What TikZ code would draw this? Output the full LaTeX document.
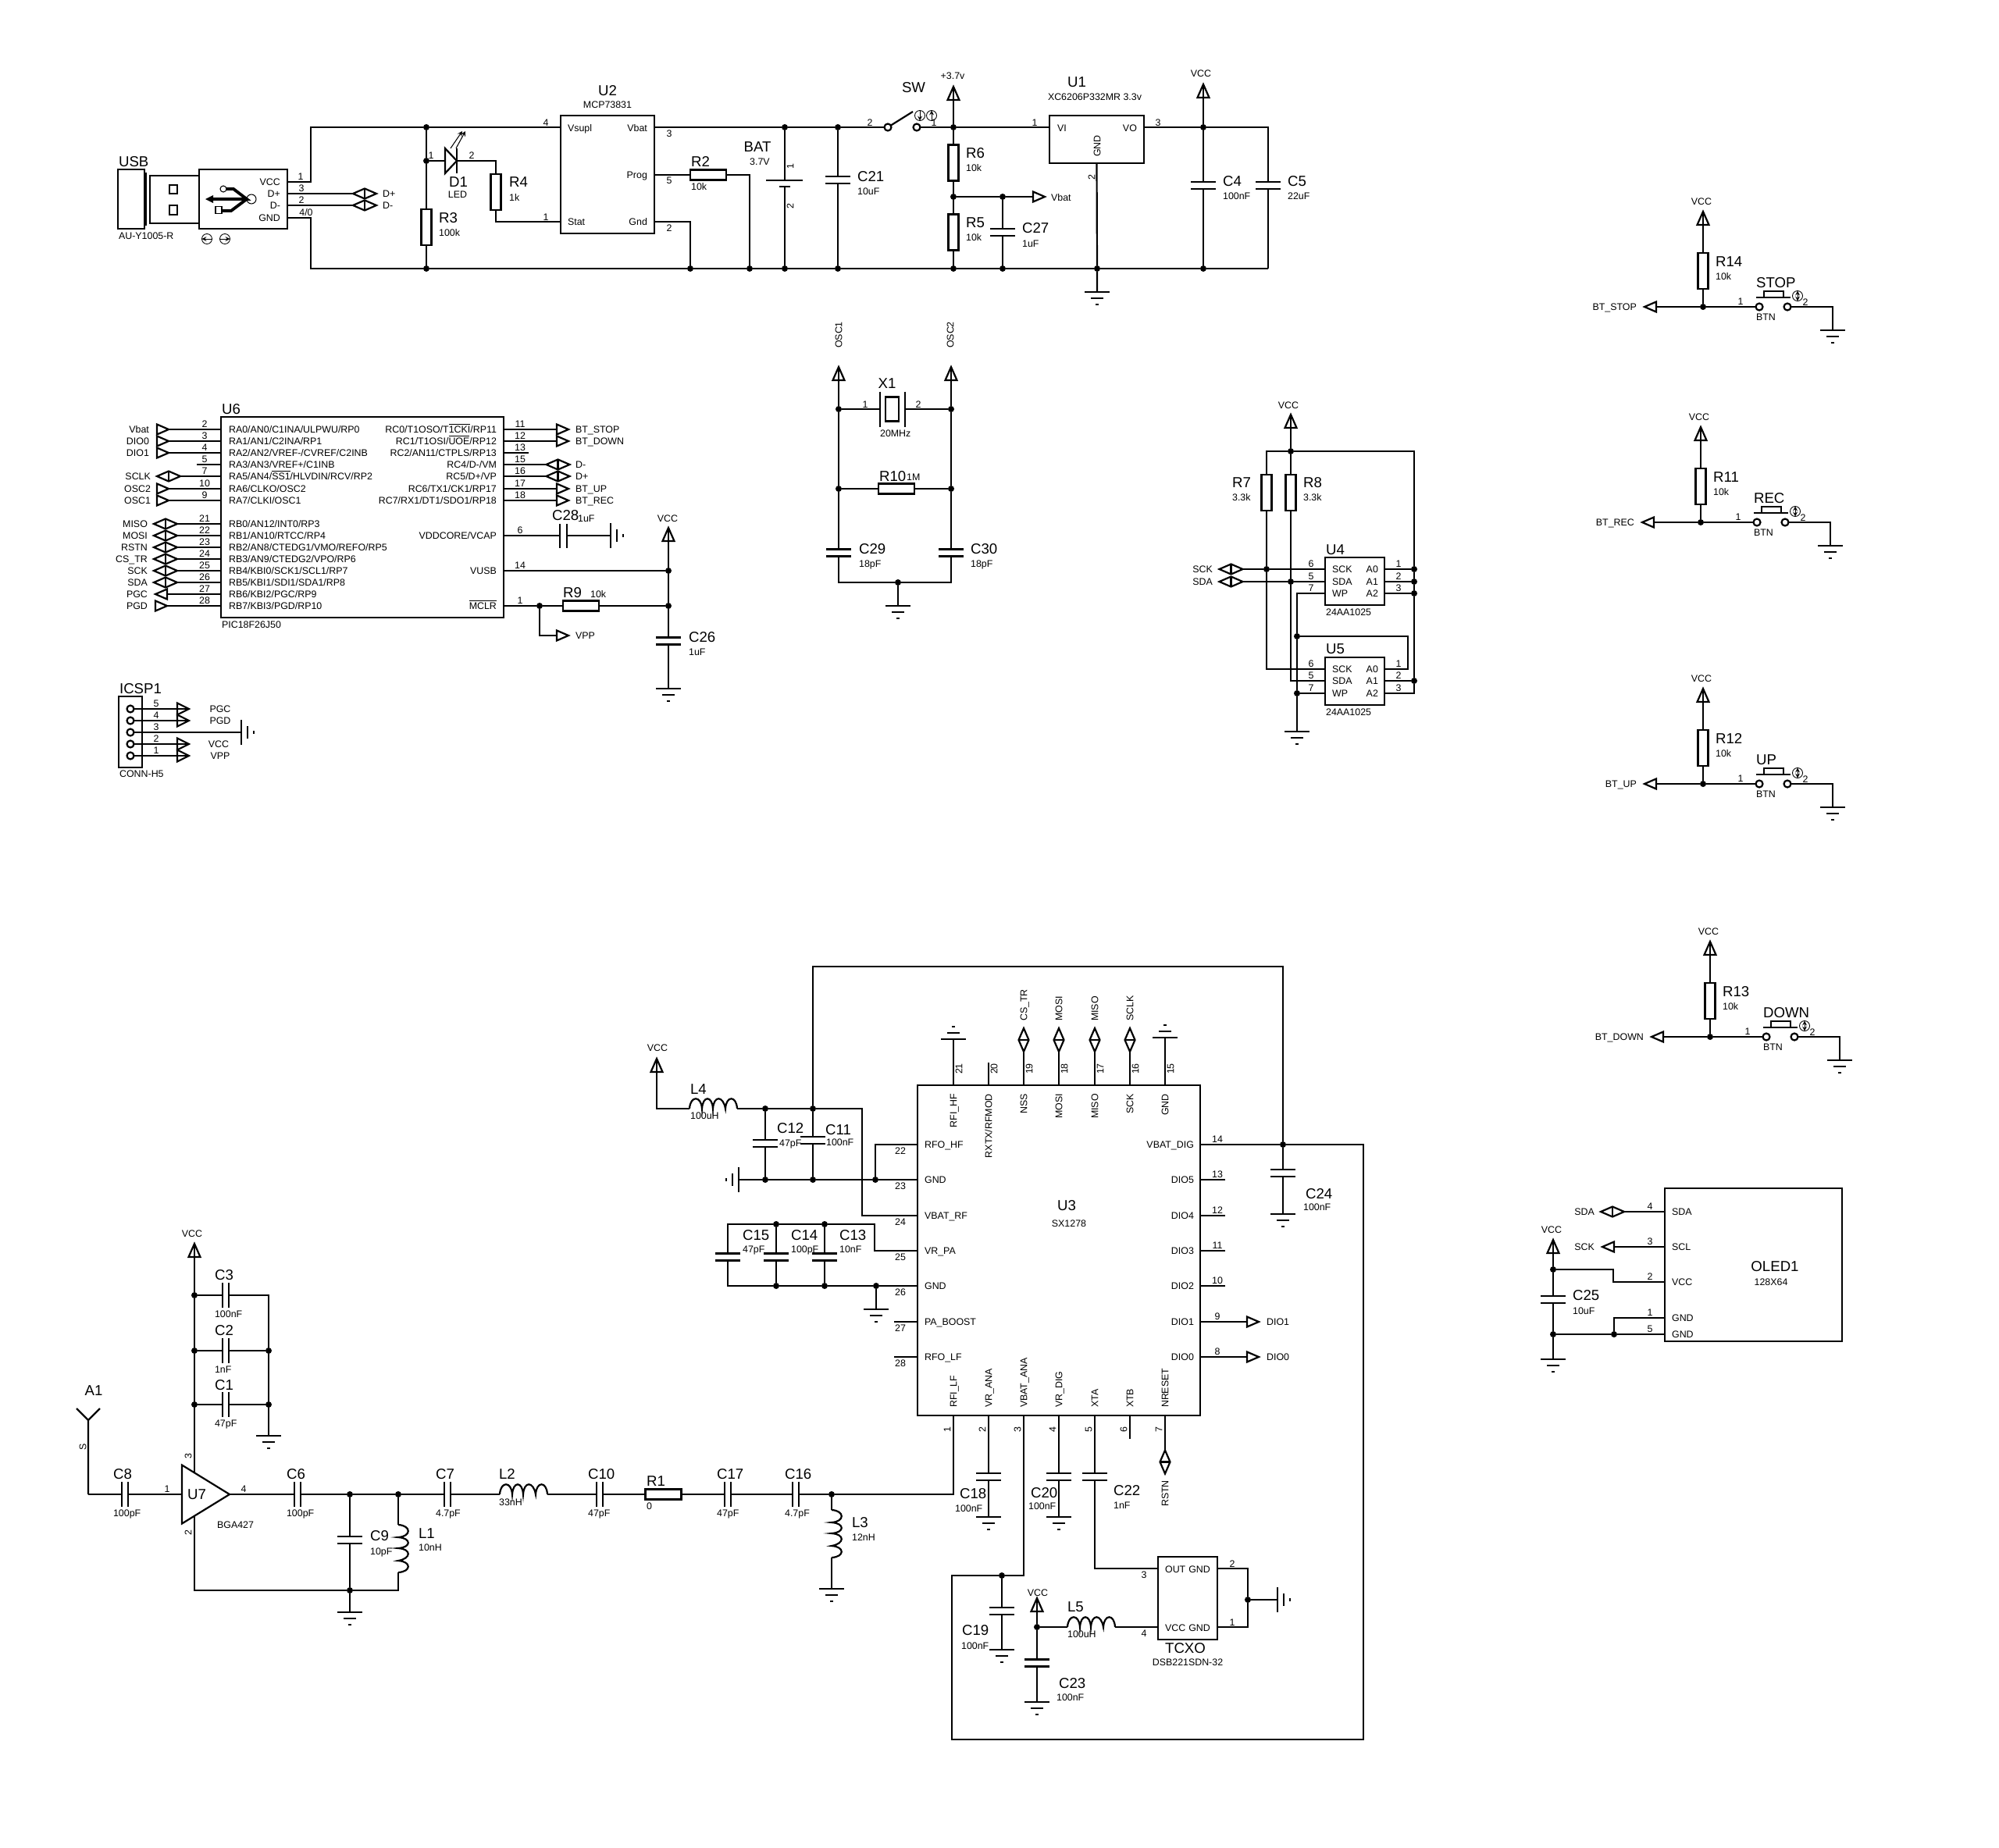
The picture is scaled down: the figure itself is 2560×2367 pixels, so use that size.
\documentclass[tikz,border=0pt]{standalone}
\usepackage{fontspec}
\setmainfont{Liberation Sans}
\usetikzlibrary{shapes.geometric}
\newcommand{\pxu}{0.2mm}
\newcommand{\smfont}{\fontsize{7.06pt}{8.5pt}\selectfont}
\newcommand{\bgfont}{\fontsize{10.6pt}{12pt}\selectfont}
\newcommand{\ol}[1]{$\overline{\mbox{#1}}$}
\newcounter{pinctr}
\newcommand{\pinno}[2]{\stepcounter{pinctr}\node[sm] (pin\arabic{pinctr}) at (#1) {#2};}
\newcommand{\pinnor}[2]{\stepcounter{pinctr}\node[sm,rotate=90] (pin\arabic{pinctr}) at (#1) {#2};}
\newcommand{\refval}[4]{\node[bg,anchor=west] (#1-ref) at (#2) {#1}; \node[sm,anchor=west] (#1-val) at (#4) {#3};}
\tikzset{
  sm/.style={font=\smfont,inner sep=0pt,text height=5.1pt,text depth=0pt},
  bg/.style={font=\bgfont,inner sep=0pt,text height=7.6pt,text depth=0pt},
  dot/.style={circle,fill,inner sep=0pt,outer sep=0pt,minimum size=8*\pxu},
  chip/.style 2 args={draw,inner sep=0pt,outer sep=0pt,minimum width=#1*\pxu,minimum height=#2*\pxu},
  resv/.style={chip={13}{46},fill=white},
  resh/.style={chip={46}{13},fill=white},
  capv/.style={inner sep=0pt,outer sep=0pt,minimum width=32*\pxu,minimum height=9*\pxu,
    append after command={(\tikzlastnode.north west) edge (\tikzlastnode.north east)
      (\tikzlastnode.south west) edge (\tikzlastnode.south east)}},
  caph/.style={inner sep=0pt,outer sep=0pt,minimum width=8*\pxu,minimum height=32*\pxu,
    append after command={(\tikzlastnode.north west) edge (\tikzlastnode.south west)
      (\tikzlastnode.north east) edge (\tikzlastnode.south east)}},
  tri/.style={isosceles triangle,isosceles triangle stretches,draw,fill=white,inner sep=0pt,outer sep=0pt,
    anchor=lower side,minimum width=13*\pxu,minimum height=15*\pxu},
  portr/.style={tri,shape border rotate=0},
  portl/.style={tri,shape border rotate=180},
  portu/.style={tri,shape border rotate=90,minimum width=15*\pxu,minimum height=17*\pxu},
  bidir/.style={diamond,draw,fill=white,inner sep=0pt,outer sep=0pt,aspect=2.4,minimum width=30*\pxu,minimum height=13*\pxu,
    append after command={(\tikzlastnode.north) edge (\tikzlastnode.south)}},
  bidirv/.style={diamond,draw,fill=white,inner sep=0pt,outer sep=0pt,aspect=.42,minimum width=13*\pxu,minimum height=30*\pxu,
    append after command={(\tikzlastnode.west) edge (\tikzlastnode.east)}},
  ctc/.style={circle,draw,fill=white,inner sep=0pt,outer sep=0pt,minimum size=9*\pxu},
  ring/.style={circle,draw,line width=.5pt,inner sep=0pt,outer sep=0pt,minimum size=13*\pxu},
  gnd/.pic={\draw (-16,0) -- (16,0) (-8,8) -- (8,8) (-2,16) -- (2,16);},
  coil/.pic={\draw (0,0) .. controls (1,-17) and (15,-17) .. (16,0)
    .. controls (17,-17) and (29,-17) .. (30,0)
    .. controls (31,-17) and (43,-17) .. (46,0)
    .. controls (47,-17) and (60,-17) .. (61,0);}
}
\begin{document}
\begin{tikzpicture}[x=0.2mm,y=-0.2mm,line width=1.25pt]
\useasboundingbox (0,0) rectangle (2560,2367);

% USB connector
\node[chip={34}{76},line width=.6pt] (USBs) at (168,255) {};
\draw[line width=.6pt] (185,222) -- (187,222) -- (187,288) -- (185,288);
\node[chip={63}{61},line width=.7pt] (USBp) at (223.5,255.5) {};
\node[chip={10}{11},line width=.6pt] (USBh1) at (222,242.5) {};
\node[chip={10}{12},line width=.6pt] (USBh2) at (222,269) {};
\node[chip={113}{76}] (USBb) at (311.5,255) {};
\node[bg,anchor=west] (USBl) at (151,207) {USB};
\node[sm,anchor=west] (USBv) at (151,302) {AU-Y1005-R};
\node[sm,anchor=east] (uvcc) at (360,233) {VCC};
\node[sm,anchor=east] (udp) at (360,248) {D+};
\node[sm,anchor=east] (udm) at (360,263) {D-};
\node[sm,anchor=east] (ugnd) at (360,279) {GND};
\draw[line width=2.2pt] (272,255) -- (316,255) -- (299,242) -- (288,242) (316,255) -- (296,270) -- (284,270);
\fill (263,255) -- (273,250) -- (273,260) -- cycle;
\node[circle,draw,line width=.6pt,inner sep=0pt,minimum size=12*\pxu] (usbc) at (322,255) {};
\node[circle,draw,line width=.6pt,fill=white,inner sep=0pt,minimum size=8*\pxu] (usbc2) at (286,242) {};
\node[chip={8}{9},line width=.6pt,fill=white] (usbq) at (280,269) {};
\node[ring] (usbr1) at (265,306) {};
\node[ring] (usbr2) at (288,306) {};
\draw[line width=.5pt,->,>=stealth] (usbr1.east) -- (usbr1.west);
\draw[line width=.5pt,->,>=stealth] (usbr2.west) -- (usbr2.east);
\pinno{385,226}{1} \pinno{386,241}{3} \pinno{386,256}{2} \pinno{392,272}{4/0}
\coordinate (tl) at (398,163);
\coordinate (bl) at (398,344);
\coordinate (tr) at (1624,163);
\coordinate (br) at (1624,344);
\foreach \x in {546,884,960,1005,1073,1221,1284,1405,1541} {\node[dot] (bot\x) at (\x,344) {};}
\foreach \x in {546,1005,1073,1221,1541} {\node[dot] (top\x) at (\x,163) {};}
\node[bidir] (pdp) at (467,248) {};
\node[bidir] (pdm) at (467,263) {};
\node[sm,anchor=west] (tdp) at (489,248) {D+};
\node[sm,anchor=west] (tdm) at (489,263) {D-};
\draw (USBb.east |- udp) -- (pdp);
\draw (USBb.east |- udm) -- (pdm);

% charger
\node[chip={120}{151}] (U2) at (778,223.5) {};
\node[bg] (U2l) at (778,116) {U2};
\node[sm] (U2v) at (778,134) {MCP73831};
\node[sm,anchor=west] (u2a) at (726,164) {Vsupl};
\node[sm,anchor=east] (u2b) at (830,164) {Vbat};
\node[sm,anchor=east] (u2c) at (830,224) {Prog};
\node[sm,anchor=west] (u2d) at (726,284) {Stat};
\node[sm,anchor=east] (u2e) at (830,284) {Gnd};
\pinno{699,157}{4} \pinno{699,278}{1} \pinno{857,171}{3} \pinno{857,231}{5} \pinno{857,292}{2}
\node[resv] (R3) at (546,291) {};
\refval{R3}{561,279}{100k}{561,298}
\node[dot] (jd1) at (546,206) {};
\node[tri,minimum width=32*\pxu] (D1) at (570,206) {};
\node[bg] (D1-ref) at (587,233) {D1};
\node[sm] (D1-val) at (586,249) {LED};
\draw (585,190) -- (585,222);
\draw[line width=.6pt,->,>=stealth] (577,190) -- (592,168);
\draw[line width=.6pt,->,>=stealth] (584,190) -- (596,168);
\pinno{552,199}{1} \pinno{604,199}{2}
\coordinate (r4t) at (635,206);
\coordinate (r4b) at (635,284);
\node[resv] (R4) at (635,246) {};
\refval{R4}{651,233}{1k}{651,253}
\node[resh] (R2) at (907,224) {};
\refval{R2}{884,207}{10k}{884,239}
\coordinate (r2r) at (960,224);
\coordinate (u2g) at (884,284);
\draw (USBb.east |- uvcc) -| (tl) -- (top546) -- (U2.west |- top546);
\draw (USBb.east |- ugnd) -| (bl) -- (bot546) -- (bot884) -- (bot960) -- (bot1005) -- (bot1073) -- (bot1221) -- (bot1284) -- (bot1405) -- (bot1541) -- (br);
\draw (top546) -- (jd1) -- (R3) -- (bot546);
\draw (jd1) -- (D1.lower side);
\draw (D1.apex) -- (r4t) -- (R4) -- (r4b) -- (U2.west |- r4b);
\draw (U2.east |- u2c) -- (R2) -- (r2r) -- (bot960);
\draw (U2.east |- u2e) -- (u2g) -- (bot884);

% battery and switch
\coordinate (bat1) at (1005,231);
\coordinate (bat2) at (1005,239);
\draw (981,231) -- (1028,231);
\draw[line width=1.6pt] (998,239) -- (1012,239);
\node[bg] (BATl) at (970,188) {BAT};
\node[sm] (BATv) at (973,207) {3.7V};
\pinnor{1012,213}{1} \pinnor{1012,264}{2}
\node[capv] (C21) at (1073,230.5) {};
\refval{C21}{1097,226}{10uF}{1097,245}
\node[ctc] (swa) at (1137,163) {};
\node[ctc] (swb) at (1174,163) {};
\draw (swa) -- (1169,143);
\node[ring] (swr1) at (1178,148) {};
\node[ring] (swr2) at (1193,148) {};
\draw[line width=.5pt,->,>=stealth] (swr1.north) -- (swr1.south);
\draw[line width=.5pt,->,>=stealth] (swr2.south) -- (swr2.north);
\node[bg] (SWl) at (1170,112) {SW};
\pinno{1114,157}{2} \pinno{1196,157}{1}
\node[sm] (p37t) at (1220,97) {+3.7v};
\node[portu] (p37) at (1221,128) {};
\node[resv] (R6) at (1221,208.5) {};
\refval{R6}{1236,196}{10k}{1236,215}
\node[resv] (R5) at (1221,297.5) {};
\refval{R5}{1236,285}{10k}{1236,304}
\node[dot] (jvb) at (1221,252) {};
\node[dot] (jc27) at (1284,252) {};
\node[portr] (pvb) at (1323,252) {};
\node[sm,anchor=west] (tvb) at (1345,253) {Vbat};
\node[capv] (C27) at (1284,297.5) {};
\refval{C27}{1308,292}{1uF}{1308,312}
\draw (U2.east |- top546) -- (top1005) -- (top1073) -- (swa);
\draw (top1005) -- (bat1) (bat2) -- (bot1005);
\draw (top1073) -- (C21) -- (bot1073);
\draw (swb) -- (top1221);
\draw (p37.apex) -- (top1221) -- (R6) -- (jvb) -- (R5) -- (bot1221);
\draw (jvb) -- (jc27) -- (pvb.lower side);
\draw (jc27) -- (C27) -- (bot1284);

% regulator
\node[chip={121}{61}] (U1) at (1404.5,178.5) {};
\node[bg] (U1l) at (1379,105) {U1};
\node[sm] (U1v) at (1402,124) {XC6206P332MR 3.3v};
\node[sm,anchor=west] (u1a) at (1353,164) {VI};
\node[sm,anchor=east] (u1b) at (1457,164) {VO};
\node[sm,rotate=90] (u1c) at (1405,187) {GND};
\pinno{1325,157}{1} \pinno{1483,157}{3} \pinnor{1398,227}{2}
\node[sm] (vcc1t) at (1538,94) {VCC};
\node[portu] (vcc1) at (1541,125) {};
\node[capv] (C4) at (1541,237.5) {};
\refval{C4}{1565,232}{100nF}{1565,251}
\node[capv] (C5) at (1624,237.5) {};
\refval{C5}{1648,232}{22uF}{1648,251}
\coordinate (g1) at (1405,374);
\pic at (g1) {gnd};
\draw (top1221) -- (U1.west |- top1221);
\draw (U1.east |- top1541) -- (top1541) -- (tr) -- (C5) -- (br);
\draw (vcc1.apex) -- (top1541) -- (C4) -- (bot1541);
\draw (U1.south) -- (bot1405) -- (g1);

% U6
\node[chip={362}{257}] (U6) at (464,662.5) {};
\node[bg,anchor=west] (U6l) at (283,524) {U6};
\node[sm,anchor=west] (U6v) at (283,800) {PIC18F26J50};
\foreach \y/\num/\txt in {550/2/{RA0/AN0/C1INA/ULPWU/RP0},565/3/{RA1/AN1/C2INA/RP1},580/4/{RA2/AN2/VREF-/CVREF/C2INB},595/5/{RA3/AN3/VREF+/C1INB},610/7/{RA5/AN4/\ol{SS1}/HLVDIN/RCV/RP2},626/10/{RA6/CLKO/OSC2},641/9/{RA7/CLKI/OSC1},671/21/{RB0/AN12/INT0/RP3},686/22/{RB1/AN10/RTCC/RP4},701/23/{RB2/AN8/CTEDG1/VMO/REFO/RP5},716/24/{RB3/AN9/CTEDG2/VPO/RP6},731/25/{RB4/KBI0/SCK1/SCL1/RP7},746/26/{RB5/KBI1/SDI1/SDA1/RP8},761/27/{RB6/KBI2/PGC/RP9},776/28/{RB7/KBI3/PGD/RP10}}
{
  \node[sm,anchor=west] (u6l\num) at (292,\y) {\txt};
  \pinno{262,\y-7}{\num}
}
\foreach \y/\num/\txt in {550/11/{RC0/T1OSO/T\ol{1CKI}/RP11},565/12/{RC1/T1OSI/\ol{UOE}/RP12},580/13/{RC2/AN11/CTPLS/RP13},595/15/{RC4/D-/VM},610/16/{RC5/D+/VP},626/17/{RC6/TX1/CK1/RP17},641/18/{RC7/RX1/DT1/SDO1/RP18},686/6/{VDDCORE/VCAP},731/14/{VUSB},776/1/{\ol{MCLR}}}
{
  \node[sm,anchor=east] (u6r\num) at (637,\y) {\txt};
  \pinno{666,\y-7}{\num}
}
% U6 ports
\foreach \y/\num/\n/\x/\w in {550/2/Vbat/201/192,565/3/DIO0/201/192,580/4/DIO1/201/192,626/10/OSC2/201/194,641/9/OSC1/201/194,776/28/PGD/199/190}
{
  \node[portr] (p\num) at (\x,\y) {};
  \node[sm,anchor=east] (t\num) at (\w,\y) {\n};
  \draw (p\num.apex) -- (U6.west |- p\num.apex);
}
\foreach \y/\num/\n/\x/\w in {610/7/SCLK/216/194,671/21/MISO/212/190,686/22/MOSI/212/190,701/23/RSTN/212/190,716/24/CS\_TR/212/190,731/25/SCK/212/190,746/26/SDA/212/190}
{
  \node[bidir] (p\num) at (\x,\y) {};
  \node[sm,anchor=east] (t\num) at (\w,\y) {\n};
  \draw (p\num) -- (U6.west |- p\num);
}
\node[portl] (p27) at (214,761) {};
\node[sm,anchor=east] (t27) at (190,761) {PGC};
\draw (p27.lower side) -- (U6.west |- p27.lower side);
\draw (U6.west |- u6l5) -- (252,595);
\foreach \y/\num/\n/\w in {550/11/BT\_STOP/736,565/12/BT\_DOWN/736,626/17/BT\_UP/736,641/18/BT\_REC/736}
{
  \node[portr] (p\num) at (713,\y) {};
  \node[sm,anchor=west] (t\num) at (\w,\y) {\n};
  \draw (U6.east |- p\num.lower side) -- (p\num.lower side);
}
\foreach \y/\num/\n in {595/15/D-,610/16/D+}
{
  \node[bidir] (p\num) at (714.5,\y) {};
  \node[sm,anchor=west] (t\num) at (736,\y) {\n};
  \draw (U6.east |- p\num) -- (p\num);
}
\draw (U6.east |- u6r13) -- (677,580);
\node[chip={9}{31},draw=none] (C28) at (721.5,686) {};
\draw (717,671) -- (717,702) (726,671) -- (726,702);
\node[bg,anchor=west] (C28-ref) at (706,660) {C28};
\node[sm,anchor=west] (C28-val) at (739,664) {1uF};
\coordinate (g28) at (782,686);
\pic[rotate=90] at (g28) {gnd};
\draw (U6.east |- u6r6) -- (C28) -- (g28);
\node[sm] (vcc6t) at (855,664) {VCC};
\node[portu] (vcc6) at (856,693) {};
\node[dot] (j14) at (856,731) {};
\node[dot] (j1) at (856,776) {};
\node[dot] (jm) at (691,776) {};
\node[resh] (R9) at (744,776) {};
\node[bg,anchor=west] (R9-ref) at (720,759) {R9};
\node[sm,anchor=west] (R9-val) at (755,761) {10k};
\coordinate (vppc) at (691,814);
\node[portr] (pvpp) at (713,814) {};
\node[sm,anchor=west] (tvpp) at (736,814) {VPP};
\node[capv] (C26) at (856,821) {};
\refval{C26}{881,816}{1uF}{881,835}
\coordinate (g26) at (856,882);
\pic at (g26) {gnd};
\draw (vcc6.apex) -- (j14) -- (j1) -- (C26) -- (g26);
\draw (U6.east |- u6r14) -- (j14);
\draw (U6.east |- u6r1) -- (jm) -- (R9) -- (j1);
\draw (jm) -- (vppc) -- (pvpp.lower side);

% ICSP
\node[chip={30}{91}] (ICSP) at (167,937.5) {};
\node[bg,anchor=west] (ICSPl) at (152,882) {ICSP1};
\node[sm,anchor=west] (ICSPv) at (152,991) {CONN-H5};
\foreach \y/\num/\n/\w in {908/5/PGC/282,923/4/PGD/282,953/2/VCC/280,968/1/VPP/282}
{
  \node[ctc] (h\num) at (167,\y) {};
  \node[tri,minimum width=15*\pxu] (hp\num) at (227,\y) {};
  \node[sm] (ht\num) at (\w,\y) {\n};
  \draw (h\num) -- (hp\num.apex);
  \pinno{200,\y-7}{\num}
}
\node[ctc] (h3) at (167,938) {};
\coordinate (g3) at (309,938);
\pic[rotate=90] at (g3) {gnd};
\draw (h3) -- (g3);
\pinno{200,931}{3}

% crystal
\node[sm,rotate=90] (tosc1) at (1074,429) {OSC1};
\node[sm,rotate=90] (tosc2) at (1217,429) {OSC2};
\node[portu] (posc1) at (1074,487) {};
\node[portu] (posc2) at (1218,487) {};
\node[dot] (x1a) at (1074,524) {};
\node[dot] (x1b) at (1218,524) {};
\node[dot] (r10a) at (1074,626) {};
\node[dot] (r10b) at (1218,626) {};
\node[caph,minimum width=32*\pxu,minimum height=45*\pxu] (X1) at (1143,524) {};
\node[chip={17}{31}] (X1c) at (1142.5,524) {};
\node[bg] (X1l) at (1136,491) {X1};
\node[sm,anchor=west] (X1v) at (1126,555) {20MHz};
\pinno{1108,518}{1} \pinno{1176,518}{2}
\node[resh] (R10) at (1148,626) {};
\node[bg,anchor=west] (R10-ref) at (1125,610) {R10};
\node[sm,anchor=west] (R10-val) at (1160,611) {1M};
\node[capv] (C29) at (1074,708) {};
\refval{C29}{1099,703}{18pF}{1099,722}
\node[capv] (C30) at (1218,708) {};
\refval{C30}{1242,703}{18pF}{1242,722}
\coordinate (c29b) at (1074,746);
\coordinate (c30b) at (1218,746);
\node[dot] (jx) at (1150,746) {};
\coordinate (gx) at (1150,776);
\pic at (gx) {gnd};
\draw (posc1.apex) -- (x1a) -- (r10a) -- (C29) -- (c29b) -- (jx) -- (c30b) -- (C30) -- (r10b) -- (x1b) -- (posc2.apex);
\draw (x1a) -- (X1) -- (x1b);
\draw (r10a) -- (R10) -- (r10b);
\draw (jx) -- (gx);

% eeprom
\node[sm] (vcc4t) at (1650,519) {VCC};
\node[portu] (vcc4) at (1653,548) {};
\node[dot] (j4) at (1653,578) {};
\coordinate (r7t) at (1622,578);
\coordinate (railt) at (1811,578);
\node[resv] (R7) at (1622,631) {};
\node[resv] (R8) at (1653,631) {};
\refval{R7}{1577,618}{3.3k}{1577,637}
\refval{R8}{1668,618}{3.3k}{1668,637}
\node[chip={76}{61}] (U4) at (1735,744.5) {};
\node[chip={76}{61}] (U5) at (1735,872.5) {};
\node[bg,anchor=west] (U4l) at (1697,704) {U4};
\node[sm,anchor=west] (U4v) at (1697,784) {24AA1025};
\node[bg,anchor=west] (U5l) at (1697,831) {U5};
\node[sm,anchor=west] (U5v) at (1697,912) {24AA1025};
\foreach \u/\a/\b/\c in {4/729/745/760,5/857/872/888}
{
  \node[sm,anchor=west] (u\u sck) at (1705,\a) {SCK};
  \node[sm,anchor=west] (u\u sda) at (1705,\b) {SDA};
  \node[sm,anchor=west] (u\u wp) at (1705,\c) {WP};
  \node[sm,anchor=east] (u\u aa) at (1766,\a) {A0};
  \node[sm,anchor=east] (u\u ab) at (1766,\b) {A1};
  \node[sm,anchor=east] (u\u ac) at (1766,\c) {A2};
  \pinno{1679,\a-7}{6} \pinno{1679,\b-7}{5} \pinno{1679,\c-7}{7}
  \pinno{1791,\a-7}{1} \pinno{1791,\b-7}{2} \pinno{1791,\c-7}{3}
}
\node[bidir] (psck) at (1576.5,729) {};
\node[bidir] (psda) at (1576.5,745) {};
\node[sm,anchor=east] (tsck) at (1554,729) {SCK};
\node[sm,anchor=east] (tsda) at (1554,745) {SDA};
\node[dot] (jsck) at (1622,729) {};
\node[dot] (jsda) at (1653,745) {};
\foreach \y/\n in {729/a,745/b,760/c,872/d} {\node[dot] (jr\n) at (1811,\y) {};}
\node[dot] (jwa) at (1661,815) {};
\node[dot] (jwb) at (1661,888) {};
\coordinate (wt) at (1661,760);
\coordinate (gw) at (1661,937);
\pic at (gw) {gnd};
\coordinate (sckb) at (1622,857);
\coordinate (sdab) at (1653,872);
\coordinate (a0c) at (1803,857);
\coordinate (a0t) at (1803,815);
\coordinate (railb) at (1811,888);
\draw (vcc4.apex) -- (j4) -- (R8) -- (jsda) -- (sdab) -- (U5.west |- sdab);
\draw (j4) -- (r7t) -- (R7) -- (jsck) -- (sckb) -- (U5.west |- sckb);
\draw (j4) -- (railt) -- (jra) -- (jrb) -- (jrc) -- (jrd) -- (railb) -- (U5.east |- railb);
\draw (psck) -- (jsck) -- (U4.west |- jsck);
\draw (psda) -- (jsda) -- (U4.west |- jsda);
\draw (U4.west |- wt) -- (wt) -- (jwa) -- (jwb) -- (gw);
\draw (jwb) -- (U5.west |- jwb);
\draw (U4.east |- jra) -- (jra);
\draw (U4.east |- jrb) -- (jrb);
\draw (U4.east |- jrc) -- (jrc);
\draw (U5.east |- jrd) -- (jrd);
\draw (U5.east |- a0c) -- (a0c) -- (a0t) -- (jwa);

% buttons
\foreach \k/\dx/\dy/\bt/\lab/\rn in {stop/0/0/BT\_STOP/STOP/R14,rec/-3/276/BT\_REC/REC/R11,up/0/611/BT\_UP/UP/R12,down/9/935/BT\_DOWN/DOWN/R13}
{
\begin{scope}[shift={(\dx,\dy)}]
  \node[sm] (v\k) at (2179,258) {VCC};
  \node[portu] (pv\k) at (2181,288) {};
  \node[resv] (\rn) at (2181,347) {};
  \refval{\rn}{2196,335}{10k}{2196,354}
  \node[dot] (j\k) at (2181,393) {};
  \node[portl] (pb\k) at (2121,393) {};
  \node[sm,anchor=east] (tb\k) at (2097,393) {\bt};
  \node[ctc] (ca\k) at (2253,393) {};
  \node[ctc] (cb\k) at (2289,393) {};
  \coordinate (gc\k) at (2347,393);
  \coordinate (g\k) at (2347,423);
  \pic at (g\k) {gnd};
  \draw (2249,381) -- (2293,381);
  \node[chip={25}{8},fill=white] (bt\k) at (2271.5,377) {};
  \node[ring] (br\k) at (2302,379) {};
  \draw[line width=.5pt,<->,>=stealth] (br\k.north) -- (br\k.south);
  \node[bg,anchor=west] (bl\k) at (2248,362) {\lab};
  \node[sm,anchor=west] (bv\k) at (2248,406) {BTN};
  \pinno{2229,386}{1} \pinno{2312,387}{2}
  \draw (pv\k.apex) -- (\rn) -- (j\k) -- (pb\k.lower side);
  \draw (j\k) -- (ca\k);
  \draw (cb\k) -- (gc\k) -- (g\k);
\end{scope}
}

% oled
\node[chip={227}{196}] (OLED) at (2245.5,1620) {};
\node[bg] (OLEDl) at (2273,1622) {OLED1};
\node[sm] (OLEDv) at (2268,1642) {128X64};
\foreach \y/\num/\n in {1552/4/SDA,1597/3/SCL,1642/2/VCC,1688/1/GND,1709/5/GND}
{
  \node[sm,anchor=west] (o\num) at (2140,\y) {\n};
  \pinno{2113,\y-7}{\num}
}
\node[bidir] (pos) at (2065,1552) {};
\node[sm,anchor=east] (tos) at (2043,1552) {SDA};
\node[portl] (poc) at (2067,1597) {};
\node[sm,anchor=east] (toc) at (2043,1597) {SCK};
\node[sm] (vccot) at (1987,1575) {VCC};
\node[portu] (vcco) at (1989,1605) {};
\node[dot] (jov) at (1989,1626) {};
\node[dot] (jog) at (1989,1709) {};
\node[dot] (jog2) at (2067,1709) {};
\coordinate (ov1) at (2066,1626);
\coordinate (ov2) at (2066,1642);
\coordinate (og1) at (2067,1688);
\coordinate (go) at (1989,1741);
\pic at (go) {gnd};
\node[capv] (C25) at (1989,1664.5) {};
\refval{C25}{2013,1659}{10uF}{2013,1679}
\draw (pos) -- (OLED.west |- pos);
\draw (poc.lower side) -- (OLED.west |- poc.lower side);
\draw (vcco.apex) -- (jov) -- (C25) -- (jog) -- (go);
\draw (jov) -- (ov1) -- (ov2) -- (OLED.west |- ov2);
\draw (jog) -- (jog2) -- (OLED.west |- jog2);
\draw (jog2) -- (og1) -- (OLED.west |- og1);

% U3
\node[chip={362}{423}] (U3) at (1356,1601.5) {};
\node[bg] (U3l) at (1366,1544) {U3};
\node[sm] (U3v) at (1369,1567) {SX1278};
\foreach \y/\num/\txt in {1466/22/RFO\_HF,1511/23/GND,1557/24/VBAT\_RF,1602/25/VR\_PA,1647/26/GND,1693/27/PA\_BOOST,1738/28/RFO\_LF}
{
  \node[sm,anchor=west] (u3l\num) at (1183,\y) {\txt};
  \pinno{1153,\y+8}{\num}
}
\foreach \y/\num/\txt in {1466/14/VBAT\_DIG,1511/13/DIO5,1557/12/DIO4,1602/11/DIO3,1647/10/DIO2,1693/9/DIO1,1738/8/DIO0}
{
  \node[sm,anchor=east] (u3r\num) at (1530,\y) {\txt};
  \pinno{1559,\y-7}{\num}
}
\foreach \x/\num/\txt in {1221/21/RFI\_HF,1266/20/{RXTX/RFMOD},1311/19/NSS,1356/18/MOSI,1402/17/MISO,1447/16/SCK,1492/15/GND}
{
  \node[sm,rotate=90,anchor=east] (u3t\num) at (\x,1400) {\txt};
  \pinnor{\x+7,1369}{\num}
}
\foreach \x/\num/\txt in {1221/1/RFI\_LF,1266/2/VR\_ANA,1311/3/VBAT\_ANA,1356/4/VR\_DIG,1402/5/XTA,1447/6/XTB,1492/7/NRESET}
{
  \node[sm,rotate=90,anchor=west] (u3b\num) at (\x,1804) {\txt};
  \pinnor{\x-8,1831}{\num}
}
\foreach \num in {13,12,11,10} {\draw (U3.east |- u3r\num) -- ++(32,0);}
\foreach \num in {27,28} {\draw (U3.west |- u3l\num) -- ++(-30,0);}
\coordinate (s20) at (1266,1361);
\draw (u3t20 |- U3.north) -- (s20);
\draw (u3b6 |- U3.south) -- ++(0,30);
\foreach \y/\num/\n in {1693/9/DIO1,1738/8/DIO0}
{
  \node[portr] (pd\num) at (1597,\y) {};
  \node[sm,anchor=west] (td\num) at (1621,\y) {\n};
  \draw (U3.east |- pd\num.lower side) -- (pd\num.lower side);
}
% top pins
\coordinate (g21) at (1221,1331);
\coordinate (g15) at (1492,1329);
\pic[rotate=180] at (g21) {gnd};
\pic[rotate=180] at (g15) {gnd};
\draw (u3t21 |- U3.north) -- (g21);
\draw (u3t15 |- U3.north) -- (g15);
\foreach \x/\num/\n in {1311/19/CS\_TR,1356/18/MOSI,1402/17/MISO,1447/16/SCLK}
{
  \node[bidirv] (pt\num) at (\x,1332) {};
  \node[sm,rotate=90,anchor=west] (tt\num) at (\x,1309) {\n};
  \draw (u3t\num |- U3.north) -- (pt\num);
}
% vbat nets
\node[sm] (vccl4t) at (842,1342) {VCC};
\node[portu] (vccl4) at (841,1373) {};
\coordinate (l4c) at (841,1420);
\coordinate (L4a) at (883,1420);
\coordinate (L4b) at (944,1420);
\pic at (L4a) {coil};
\refval{L4}{883,1395}{100uH}{883,1429}
\node[dot] (j980) at (980,1420) {};
\node[dot] (j1041) at (1041,1420) {};
\coordinate (vr1) at (1104,1420);
\coordinate (vr2) at (1104,1557);
\node[capv] (C12) at (980,1464.5) {};
\node[capv] (C11) at (1041,1460.5) {};
\node[bg,anchor=west] (C12-ref) at (994,1445) {C12};
\node[sm,anchor=west] (C12-val) at (997,1464) {47pF};
\node[bg,anchor=west] (C11-ref) at (1056,1447) {C11};
\node[sm,anchor=west] (C11-val) at (1057,1463) {100nF};
\coordinate (gl) at (946,1511);
\pic[rotate=-90] at (gl) {gnd};
\node[dot] (g980) at (980,1511) {};
\node[dot] (g1041) at (1041,1511) {};
\node[dot] (g1121) at (1121,1511) {};
\coordinate (rfo) at (1121,1466);
\draw (vccl4.apex) -- (l4c) -- (L4a);
\draw (L4b) -- (j980) -- (j1041) -- (vr1) -- (vr2) -- (U3.west |- vr2);
\draw (j980) -- (C12) -- (g980);
\draw (j1041) -- (C11) -- (g1041);
\draw (gl) -- (g980) -- (g1041) -- (g1121) -- (U3.west |- g1121);
\draw (U3.west |- rfo) -- (rfo) -- (g1121);
\node[dot] (j1643) at (1643,1466) {};
\coordinate (t1) at (1643,1238);
\coordinate (t2) at (1041,1238);
\draw (j1041) -- (t2) -- (t1) -- (j1643);
\node[capv] (C24) at (1643,1502.5) {};
\coordinate (g24) at (1643,1555);
\pic at (g24) {gnd};
\node[bg,anchor=west] (C24-ref) at (1671,1529) {C24};
\node[sm,anchor=west] (C24-val) at (1668,1546) {100nF};
\coordinate (lb1) at (1746,1466);
\coordinate (lb2) at (1746,2228);
\coordinate (lb3) at (1219,2228);
\coordinate (lb4) at (1219,2018);
\coordinate (lb5) at (1311,2018);
\node[dot] (j1283) at (1283,2018) {};
\draw (U3.east |- j1643) -- (j1643) -- (lb1) -- (lb2) -- (lb3) -- (lb4) -- (j1283) -- (lb5) -- (u3b3 |- U3.south);
\draw (j1643) -- (C24) -- (g24);
% VR_PA caps
\foreach \x/\c/\v in {932/C15/47pF,994/C14/100pF,1056/C13/10nF}
{
  \node[capv] (\c) at (\x,1610) {};
  \node[bg,anchor=west] (\c-ref) at (\x+18,1582) {\c};
  \node[sm,anchor=west] (\c-val) at (\x+18,1600) {\v};
}
\node[dot] (pa994) at (994,1568) {};
\node[dot] (pa1056) at (1056,1568) {};
\node[dot] (pb994) at (994,1647) {};
\node[dot] (pb1056) at (1056,1647) {};
\node[dot] (pb1122) at (1122,1647) {};
\coordinate (pa0) at (932,1568);
\coordinate (pa1) at (1120,1568);
\coordinate (pa2) at (1120,1602);
\coordinate (pb0) at (932,1647);
\coordinate (g1122) at (1122,1677);
\pic at (g1122) {gnd};
\draw (U3.west |- pa2) -- (pa2) -- (pa1) -- (pa1056) -- (pa994) -- (pa0) -- (C15) -- (pb0) -- (pb994) -- (pb1056) -- (pb1122) -- (U3.west |- pb1122);
\draw (pa994) -- (C14) -- (pb994);
\draw (pa1056) -- (C13) -- (pb1056);
\draw (pb1122) -- (g1122);
% bottom pins
\foreach \x/\num/\c in {1266/2/C18,1356/4/C20}
{
  \node[capv] (\c) at (\x,1891.5) {};
  \coordinate (g\c) at (\x,1943);
  \pic at (g\c) {gnd};
  \draw (u3b\num |- U3.south) -- (\c) -- (g\c);
}
\refval{C18}{1228,1913}{100nF}{1222,1932}
\refval{C20}{1319,1912}{100nF}{1316,1929}
\node[capv] (C22) at (1402,1891.5) {};
\refval{C22}{1425,1909}{1nF}{1425,1928}
\node[bidirv] (prst) at (1492,1872.5) {};
\node[sm,rotate=90,anchor=east] (trst) at (1492,1895) {RSTN};
\draw (u3b7 |- U3.south) -- (prst);
% TCXO
\node[chip={76}{106}] (TCXO) at (1521,2047) {};
\node[bg] (TCXOl) at (1518,2111) {TCXO};
\node[sm] (TCXOv) at (1521,2129) {DSB221SDN-32};
\node[sm,anchor=west] (txa) at (1491,2010) {OUT};
\node[sm,anchor=east] (txb) at (1551,2010) {GND};
\node[sm,anchor=west] (txc) at (1491,2085) {VCC};
\node[sm,anchor=east] (txd) at (1551,2085) {GND};
\pinno{1465,2017}{3} \pinno{1465,2092}{4} \pinno{1578,2003}{2} \pinno{1578,2078}{1}
\coordinate (xo1) at (1402,2009);
\coordinate (xo2) at (1598,2009);
\coordinate (xo3) at (1598,2084);
\node[dot] (jxo) at (1598,2049) {};
\coordinate (gxo) at (1636,2049);
\pic[rotate=90] at (gxo) {gnd};
\draw (u3b5 |- U3.south) -- (C22) -- (xo1) -- (TCXO.west |- xo1);
\draw (TCXO.east |- xo2) -- (xo2) -- (jxo) -- (xo3) -- (TCXO.east |- xo3);
\draw (jxo) -- (gxo);
\node[capv] (C19) at (1283,2063.5) {};
\coordinate (g19) at (1283,2113);
\pic at (g19) {gnd};
\refval{C19}{1231,2088}{100nF}{1230,2108}
\draw (j1283) -- (C19) -- (g19);
\node[sm] (vccxt) at (1329,2040) {VCC};
\node[portu] (vccx) at (1328,2064) {};
\node[dot] (jl5) at (1328,2084) {};
\coordinate (L5a) at (1367,2084);
\coordinate (L5b) at (1428,2084);
\pic at (L5a) {coil};
\refval{L5}{1366,2058}{100uH}{1366,2093}
\node[capv] (C23) at (1328,2130) {};
\coordinate (g23) at (1328,2180);
\pic at (g23) {gnd};
\refval{C23}{1355,2156}{100nF}{1352,2174}
\draw (vccx.apex) -- (jl5) -- (C23) -- (g23);
\draw (jl5) -- (L5a);
\draw (L5b) -- (TCXO.west |- L5b);

% RF chain
\node[bg] (A1l) at (120,1781) {A1};
\coordinate (ant) at (113,1914);
\coordinate (anty) at (113,1819);
\coordinate (antl) at (98,1804);
\coordinate (antr) at (128,1804);
\node[sm,rotate=90] (ants) at (106,1853) {S};
\draw (ant) -- (anty) -- (antl) (anty) -- (antr);
\node[tri,minimum width=75*\pxu,minimum height=61*\pxu] (U7) at (233,1914) {};
\node[bg,anchor=west] (U7l) at (239,1914) {U7};
\node[sm,anchor=west] (U7v) at (277,1953) {BGA427};
\pinno{214,1907}{1} \pinno{312,1907}{4} \pinnor{241,1865}{3} \pinnor{241,1963}{2}
\foreach \x/\c/\v/\lx in {160/C8/100pF/144,381/C6/100pF/366,573/C7/4.7pF/557,768/C10/47pF/752,932/C17/47pF/917,1019/C16/4.7pF/1004}
{
  \node[caph] (\c) at (\x,1914) {};
  \node[bg,anchor=west] (\c-ref) at (\lx,1888) {\c};
  \node[sm,anchor=west] (\c-val) at (\lx,1938) {\v};
}
\node[dot] (j448) at (448,1914) {};
\node[dot] (j510) at (510,1914) {};
\node[dot] (j1065) at (1065,1914) {};
\coordinate (L2a) at (640,1914);
\coordinate (L2b) at (701,1914);
\pic at (L2a) {coil};
\refval{L2}{638,1888}{33nH}{638,1924}
\node[resh] (R1) at (849.5,1914) {};
\refval{R1}{827,1897}{0}{827,1929}
\coordinate (rfc) at (1221,1914);
\draw (ant) -- (C8) -- (U7.lower side);
\draw (U7.apex) -- (C6) -- (j448) -- (j510) -- (C7) -- (L2a);
\draw (L2b) -- (C10) -- (R1) -- (C17) -- (C16) -- (j1065) -- (rfc) -- (u3b1 |- U3.south);
% amp supply
\node[sm] (vcc7t) at (246,1580) {VCC};
\node[portu] (vcc7) at (249,1610) {};
\coordinate (a3) at (249,1887);
\coordinate (a2) at (249,1942);
\coordinate (a2b) at (249,2037);
\foreach \y/\c/\r in {1659/C3/c3,1730/C2/c2,1799/C1/c1}
{
  \node[dot] (l\r) at (249,\y) {};
  \node[caph] (\c) at (289,\y) {};
}
\coordinate (rc3) at (344,1659);
\node[dot] (rc2) at (344,1730) {};
\node[dot] (rc1) at (344,1799) {};
\coordinate (g7) at (344,1839);
\pic at (g7) {gnd};
\refval{C3}{274,1633}{100nF}{274,1683}
\refval{C2}{274,1704}{1nF}{274,1754}
\refval{C1}{274,1774}{47pF}{274,1823}
\draw (vcc7.apex) -- (lc3) -- (lc2) -- (lc1) -- (a3);
\draw (lc3) -- (C3) -- (rc3) -- (rc2) -- (rc1) -- (g7);
\draw (lc2) -- (C2) -- (rc2);
\draw (lc1) -- (C1) -- (rc1);
% shunt parts
\node[capv] (C9) at (448,1972.5) {};
\refval{C9}{473,1967}{10pF}{473,1987}
\coordinate (L1a) at (510,1953);
\coordinate (L1b) at (510,2014);
\coordinate (L1c) at (510,2037);
\pic[rotate=-90] at (L1a) {coil};
\refval{L1}{535,1964}{10nH}{535,1982}
\node[dot] (j2037) at (448,2037) {};
\coordinate (g9) at (448,2065);
\pic at (g9) {gnd};
\draw (a2) -- (a2b) -- (j2037) -- (L1c) -- (L1b);
\draw (j448) -- (C9) -- (j2037) -- (g9);
\draw (j510) -- (L1a);
\coordinate (L3a) at (1065,1934);
\coordinate (L3b) at (1065,1995);
\coordinate (g3r) at (1065,2035);
\pic[rotate=-90] at (L3a) {coil};
\pic at (g3r) {gnd};
\refval{L3}{1090,1950}{12nH}{1090,1969}
\draw (j1065) -- (L3a);
\draw (L3b) -- (g3r);
\end{tikzpicture}
\end{document}
